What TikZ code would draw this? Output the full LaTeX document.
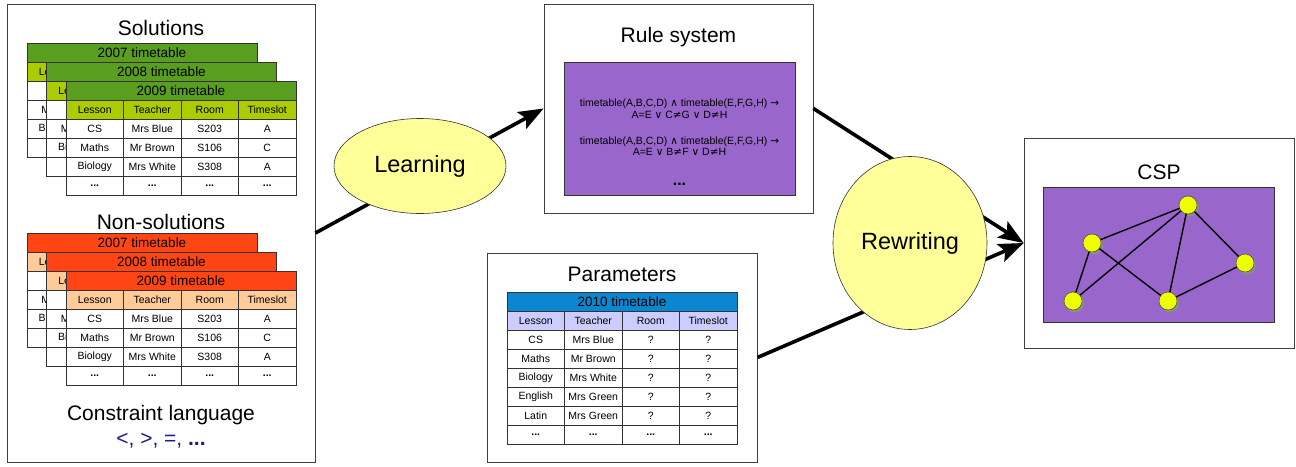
\documentclass[tikz,border=0pt]{standalone}
\usepackage{fontspec}
\setmainfont{Liberation Sans}
\newfontfamily\symfont{DejaVu Sans}
\usetikzlibrary{arrows.meta,positioning,shapes.geometric,shadows}
\definecolor{solHead}{HTML}{599E1E}
\definecolor{solCol}{HTML}{AACC00}
\definecolor{nonHead}{HTML}{FF4513}
\definecolor{nonCol}{HTML}{FFCC99}
\definecolor{parHead}{HTML}{0A87D0}
\definecolor{parCol}{HTML}{CCCCFF}
\definecolor{areaFill}{HTML}{9966CC}
\definecolor{stepFill}{HTML}{FFFF99}
\definecolor{varFill}{HTML}{EEFF00}
\definecolor{langBlue}{HTML}{1A1A8C}
\tikzset{
  panel/.style={draw=black!75, fill=white, line width=0.8pt},
  panelTitle/.style={font=\fontsize{21}{25}\selectfont},
  area/.style={draw=black!80, fill=areaFill, line width=0.8pt},
  ttitle/.style={draw=black!80, line width=1pt, minimum width=230pt,
    minimum height=19pt, inner sep=0pt, outer sep=0pt,
    font=\fontsize{13.5}{16}\selectfont, anchor=north west},
  tcell/.style={draw=black!80, fill=white, line width=1pt, minimum width=57.5pt,
    minimum height=19pt, inner sep=0pt, outer sep=0pt,
    font=\fontsize{10.5}{12}\selectfont, anchor=north west},
  ruletext/.style={align=center, font=\fontsize{10.5}{11.5}\selectfont},
  stepEllipse/.style={ellipse, draw=black!80, fill=stepFill, line width=0.6pt,
    inner sep=0pt, font=\fontsize{23.5}{28}\selectfont},
  flowArc/.style={-{Stealth[length=25pt, width=19pt, inset=5pt]}, line width=3.6pt},
  var/.style={circle, draw=black!80, fill=varFill, minimum size=18pt, inner sep=0pt,
    drop shadow={shadow xshift=2pt, shadow yshift=-2.5pt, fill=black!45, opacity=1}},
  edge/.style={line width=1.4pt},
}
\newcommand{\etc}{\textbf{...}}
\newcommand{\sym}[1]{{\symfont #1}}
% name, x, y, year, title fill, column fill, rows
\newcommand{\timetable}[7]{%
  \node[ttitle, fill=#5] (#1) at (#2,#3) {#4 timetable};
  \foreach \h [count=\k] in {Lesson,Teacher,Room,Timeslot}
    \node[tcell, fill=#6] at ({#2+57.5*(\k-1)},{#3+19}) {\h};
  \foreach \a/\b/\c/\d [count=\r] in #7
    \foreach \v [count=\k] in {\a,\b,\c,\d}
      \node[tcell] at ({#2+57.5*(\k-1)},{#3+19*(\r+1)}) {\v};
}
\def\solRows{CS/Mrs Blue/S203/A, Maths/Mr Brown/S106/C,
  Biology/Mrs White/S308/A, \etc/\etc/\etc/\etc}
\def\parRows{CS/Mrs Blue/?/?, Maths/Mr Brown/?/?, Biology/Mrs White/?/?,
  English/Mrs Green/?/?, Latin/Mrs Green/?/?, \etc/\etc/\etc/\etc}

\begin{document}
\begin{tikzpicture}[x=1pt, y=-1pt]
  \useasboundingbox (0,0) rectangle (1296,466);
  % examples
  \node[panel, minimum width=308pt, minimum height=458pt] (solbox) at (161,233) {};
  \node[panelTitle] (solTitle) at (161,28) {Solutions};
  \timetable{sol7}{27}{43}{2007}{solHead}{solCol}{\solRows}
  \timetable{sol8}{46.5}{62}{2008}{solHead}{solCol}{\solRows}
  \timetable{sol9}{66}{81}{2009}{solHead}{solCol}{\solRows}
  \node[panelTitle] (nonTitle) at (161,222) {Non-solutions};
  \timetable{non7}{27}{233}{2007}{nonHead}{nonCol}{\solRows}
  \timetable{non8}{46.5}{252}{2008}{nonHead}{nonCol}{\solRows}
  \timetable{non9}{66}{271}{2009}{nonHead}{nonCol}{\solRows}
  \node[panelTitle] (langTitle) at (161,415) {Constraint language};
  \node[panelTitle, text=langBlue] (lang) at (161,441) {<, >, =, \etc};
  % rule system
  \node[panel, minimum width=269pt, minimum height=209pt] (rules) at (678.5,108.5) {};
  \node[panelTitle] (rulesTitle) at (678.5,37) {Rule system};
  \node[area, minimum width=231pt, minimum height=133pt] (ruleArea) at (679.5,128.5) {};
  \node[ruletext] (rule1) at (679.5,108.5)
    {timetable(A,B,C,D) \sym{∧} timetable(E,F,G,H) \sym{→}\\A=E \sym{∨} C\sym{≠}G \sym{∨} D\sym{≠}H};
  \node[ruletext] (rule2) at (679.5,146)
    {timetable(A,B,C,D) \sym{∧} timetable(E,F,G,H) \sym{→}\\A=E \sym{∨} B\sym{≠}F \sym{∨} D\sym{≠}H};
  \node[font=\fontsize{16}{18}\selectfont] (ruleDots) at (679.5,184) {\etc};
  % parameters
  \node[panel, minimum width=270pt, minimum height=209pt] (params) at (622,357.5) {};
  \node[panelTitle] (parTitle) at (622,274) {Parameters};
  \timetable{par10}{507}{292}{2010}{parHead}{parCol}{\parRows}
  % csp
  \node[panel, minimum width=270pt, minimum height=210pt] (csp) at (1159,243) {};
  \node[panelTitle] (cspTitle) at (1159,172) {CSP};
  \node[area, minimum width=231pt, minimum height=135pt] (cspArea) at (1158.5,254.5) {};
  \node[var] (v1) at (1188,205) {};
  \node[var] (v2) at (1092,243) {};
  \node[var] (v3) at (1073,301) {};
  \node[var] (v4) at (1168,301) {};
  \node[var] (v5) at (1245,263) {};
  \draw[edge] (v2) -- (v1);
  \draw[edge] (v2) -- (v4);
  \draw[edge] (v2) -- (v3);
  \draw[edge] (v3) -- (v1);
  \draw[edge] (v4) -- (v1);
  \draw[edge] (v1) -- (v5);
  \draw[edge] (v4) -- (v5);
  % flow
  \draw[flowArc] (solbox.east) -- (rules.west);
  \draw[flowArc] (rules.east) -- (csp.west);
  \draw[flowArc] (params.east) -- (csp.west);
  \node[stepEllipse, minimum width=172pt, minimum height=95pt] (learn) at (420,166) {Learning};
  \node[stepEllipse, minimum width=154pt, minimum height=173pt] (rewrite) at (910,243) {Rewriting};
\end{tikzpicture}
\end{document}
